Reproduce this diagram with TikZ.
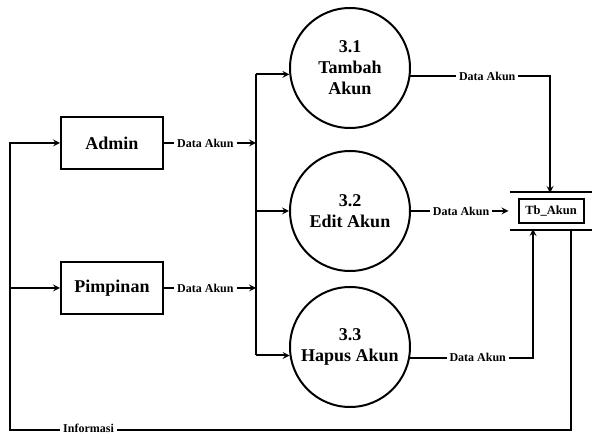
\documentclass[tikz,border=0pt]{standalone}
\usepackage{fontspec}
\setmainfont{Liberation Serif}
\usetikzlibrary{positioning}

\begin{document}
\begin{tikzpicture}[x=1pt, y=-1pt, line width=2pt, >=stealth,
    entitas/.style={draw, minimum width=102pt, minimum height=52pt, font=\bfseries\fontsize{18}{21}\selectfont},
    proses/.style={draw, circle, minimum size=120pt, inner sep=0pt, align=center, font=\bfseries\fontsize{18}{21}\selectfont},
    aliran/.style={fill=white, inner sep=3pt, font=\bfseries\fontsize{12}{14}\selectfont}]
    \useasboundingbox (0,0) rectangle (592,435);

    % entitas luar
    \node[entitas] (admin) at (112,143) {Admin};
    \node[entitas] (pimpinan) at (112,288) {Pimpinan};

    % proses
    \node[proses] (p31) at (350,68) {3.1\\Tambah\\Akun};
    \node[proses] (p32) at (350,211) {3.2\\Edit Akun};
    \node[proses] (p33) at (350,347) {3.3\\Hapus Akun};

    % data store
    \node[draw, minimum width=65pt, minimum height=24pt, inner sep=2pt, font=\bfseries\fontsize{12.5}{14}\selectfont] (tbakun) at (551,211) {Tb\_Akun};
    \draw ([xshift=-8pt, yshift=6pt]tbakun.north west) -- ([xshift=12pt, yshift=6pt]tbakun.north east);
    \draw ([xshift=-8pt, yshift=-6pt]tbakun.south west) -- ([xshift=12pt, yshift=-6pt]tbakun.south east);

    \coordinate (bus) at (256,0);
    \coordinate (kiribawah) at (10,430);
    \coordinate (kananbawah) at (571,430);
    \coordinate (infoatas) at (571,229);
    \coordinate (storeatas) at (550,193);
    \coordinate (storebawah) at (533,229);

    % admin dan pimpinan ke proses
    \draw[->] (admin.east) -- node[aliran, pos=0.45] {Data Akun} (bus |- admin.east);
    \draw[->] (pimpinan.east) -- node[aliran, pos=0.45] {Data Akun} (bus |- pimpinan.east);
    \draw (bus |- p31.186) -- (bus |- p33.188);
    \draw[->] (bus |- p31.186) -- (p31.186);
    \draw[->] (bus |- p32.west) -- (p32.west);
    \draw[->] (bus |- p33.188) -- (p33.188);

    % proses ke Tb_Akun
    \draw[->] (p31.352) -- node[aliran, pos=0.55] {Data Akun} (p31.352 -| storeatas) -- (storeatas);
    \draw[->, shorten >=9pt] (p32.east) -- node[aliran, pos=0.47] {Data Akun} (tbakun.west);
    \draw[->] (p33.350) -- node[aliran, pos=0.55] {Data Akun} (p33.350 -| storebawah) -- (storebawah);

    % informasi
    \draw[->] (infoatas) -- (kananbawah) -- node[aliran, pos=0.86, yshift=2pt, inner ysep=1pt] {Informasi} (kiribawah) |- (admin.west);
    \draw[->] (kiribawah |- pimpinan.west) -- (pimpinan.west);
\end{tikzpicture}
\end{document}
